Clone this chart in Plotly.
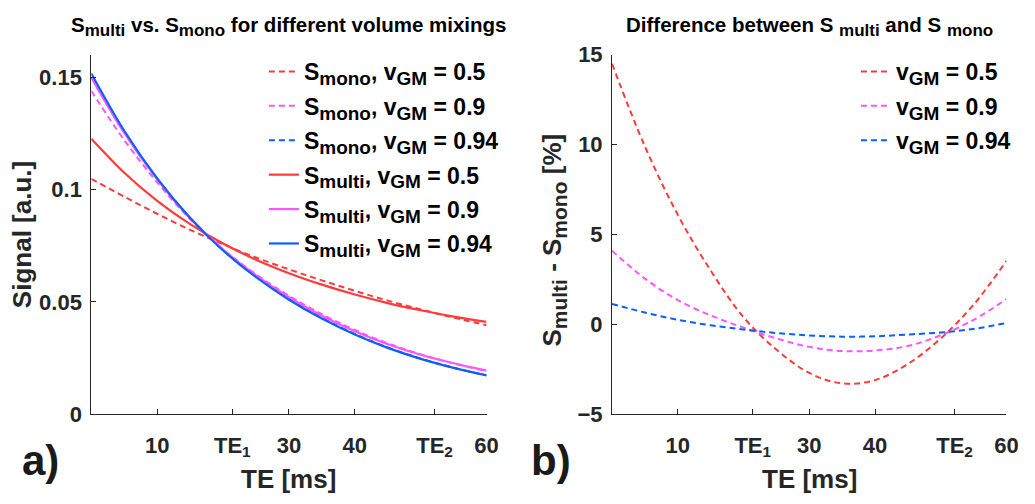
import plotly.graph_objects as go

# Echo times [ms]
te = [0, 5, 10, 15, 20, 25, 30, 35, 40, 45, 50, 55, 60]
te1 = 21.4
te2 = 52.1

# Multi-exponential signal for three GM volume fractions [a.u.]
s_multi_05 = [0.1226, 0.1075, 0.0950, 0.0846, 0.0760, 0.0688, 0.0628, 0.0577, 0.0533, 0.0495, 0.0463, 0.0435, 0.0411]
s_multi_09 = [0.1500, 0.1252, 0.1046, 0.0873, 0.0733, 0.0618, 0.0521, 0.0439, 0.0370, 0.0312, 0.0265, 0.0227, 0.01945]
s_multi_094 = [0.1517, 0.1262, 0.1050, 0.0874, 0.0729, 0.0610, 0.0510, 0.0426, 0.0355, 0.02955, 0.02468, 0.02068, 0.01733]

# Mono-exponential fits [a.u.]
s_mono_05 = [0.1048, 0.09686, 0.08921, 0.08206, 0.07570, 0.06976, 0.06450, 0.05959, 0.05495, 0.05059, 0.04666, 0.04302, 0.03965]
s_mono_09 = [0.1439, 0.1220, 0.1032, 0.08686, 0.07343, 0.06228, 0.05275, 0.04455, 0.03754, 0.03157, 0.02666, 0.02264, 0.01918]
s_mono_094 = [0.1500, 0.1254, 0.1047, 0.08744, 0.07310, 0.06129, 0.05131, 0.04289, 0.03573, 0.02972, 0.02479, 0.02073, 0.01732]

# Relative difference S_multi - S_mono [%]
diff_05 = [14.5, 9.9, 6.1, 3.0, 0.4, -1.4, -2.7, -3.28, -3.1, -2.2, -0.78, 1.1, 3.54]
diff_09 = [4.1, 2.55, 1.35, 0.5, -0.18, -0.78, -1.25, -1.48, -1.45, -1.2, -0.6, 0.25, 1.41]
diff_094 = [1.14, 0.66, 0.26, -0.05, -0.28, -0.48, -0.61, -0.68, -0.66, -0.56, -0.45, -0.25, 0.08]

vgm_labels = ["0.5", "0.9", "0.94"]
x_tickvals = [10, te1, 30, 40, te2, 60]
x_ticktext = ["10", "TE<sub>1</sub>", "30", "40", "TE<sub>2</sub>", "60"]

RED = "#ff3b3b"
MAGENTA = "#ff55ff"
BLUE = "#0a5fff"
colors = [RED, MAGENTA, BLUE]
AXC = "#262626"
FONT = "Liberation Sans, Arial, sans-serif"

W, H = 1035, 504
# plot-area pixel boxes
L_X0, L_X1 = 92.4, 492.3
R_X0, R_X1 = 619.2, 1018.3
Y_TOP, Y_BOT = 45.0, 423.3


def fx(px):
    return px / W


def fy(py):
    return (H - py) / H


def sub(txt, size):
    """Subscript with an explicit glyph size."""
    return f'<sub><span style="font-size:{size}px">{txt}</span></sub>'


fig = go.Figure()

dash = "6px,4px"
k = 0
for s, c, lab in zip([s_mono_05, s_mono_09, s_mono_094], colors, vgm_labels):
    k += 1
    fig.add_trace(go.Scatter(
        x=te, y=s, mode="lines", line=dict(color=c, width=2, dash=dash, shape="spline"),
        name=f"S{sub('mono', 19)}, v{sub('GM', 19)} = {lab}", legendgroup=f"g{k}",
        xaxis="x", yaxis="y", legend="legend"))
for s, c, lab in zip([s_multi_05, s_multi_09, s_multi_094], colors, vgm_labels):
    k += 1
    fig.add_trace(go.Scatter(
        x=te, y=s, mode="lines", line=dict(color=c, width=2.2, shape="spline"),
        name=f"S{sub('multi', 19)}, v{sub('GM', 19)} = {lab}", legendgroup=f"g{k}",
        xaxis="x", yaxis="y", legend="legend"))
for d, c, lab in zip([diff_05, diff_09, diff_094], colors, vgm_labels):
    k += 1
    fig.add_trace(go.Scatter(
        x=te, y=d, mode="lines", line=dict(color=c, width=2, dash=dash, shape="spline"),
        name=f"v{sub('GM', 19)} = {lab}", legendgroup=f"g{k}",
        xaxis="x2", yaxis="y2", legend="legend2"))

tickfont = dict(family=FONT, size=22, color=AXC, weight="bold")
common_ax = dict(showline=True, linecolor=AXC, linewidth=1, ticks="inside", ticklen=5,
                 tickcolor=AXC, showgrid=False, zeroline=False, tickfont=tickfont, mirror=False)

legend_font = dict(family=FONT, size=23, color="black", weight="bold")

fig.update_layout(
    width=W, height=H, margin=dict(l=0, r=0, t=0, b=0),
    paper_bgcolor="white", plot_bgcolor="white",
    font=dict(family=FONT),
    xaxis=dict(domain=[fx(L_X0), fx(L_X1)], range=[0, 60], tickvals=x_tickvals, ticktext=x_ticktext,
               anchor="y", ticklabelstandoff=11, **common_ax),
    yaxis=dict(domain=[fy(Y_BOT), fy(Y_TOP)], range=[0, 0.16], tickvals=[0, 0.05, 0.1, 0.15],
               ticktext=["0", "0.05", "0.1", "0.15"], anchor="x", ticklabelstandoff=4, **common_ax),
    xaxis2=dict(domain=[fx(R_X0), fx(R_X1)], range=[0, 60], tickvals=x_tickvals, ticktext=x_ticktext,
                anchor="y2", ticklabelstandoff=11, **common_ax),
    yaxis2=dict(domain=[fy(Y_BOT), fy(Y_TOP)], range=[-5, 15], tickvals=[-5, 0, 5, 10, 15],
                anchor="x2", ticklabelstandoff=4, **common_ax),
    legend=dict(x=fx(267), y=fy(40), xanchor="left", yanchor="top", bgcolor="rgba(0,0,0,0)",
                font=legend_font, itemwidth=30, tracegroupgap=1.5),
    legend2=dict(x=fx(866), y=fy(40), xanchor="left", yanchor="top", bgcolor="rgba(0,0,0,0)",
                 font=legend_font, itemwidth=30, tracegroupgap=1.5),
    showlegend=True,
)

annots = [
    # panel titles
    dict(text=f"S{sub('multi', 17)} vs. S{sub('mono', 17)} for different volume mixings",
         x=fx((L_X0 + L_X1) / 2), y=fy(15), font=dict(size=20.5, color="black")),
    dict(text=f"Difference between S {sub('multi', 17)} and S {sub('mono', 17)}",
         x=fx((R_X0 + R_X1) / 2), y=fy(15), font=dict(size=20.5, color="black")),
    # axis titles
    dict(text="TE [ms]", x=fx((L_X0 + L_X1) / 2), y=fy(491), font=dict(size=26, color=AXC)),
    dict(text="TE [ms]", x=fx((R_X0 + R_X1) / 2), y=fy(491), font=dict(size=26, color=AXC)),
    dict(text="Signal [a.u.]", x=fx(23), y=fy(234), textangle=-90, font=dict(size=26, color=AXC)),
    dict(text=f"S{sub('multi', 21)} - S{sub('mono', 21)} [%]", x=fx(560), y=fy(240), textangle=-90,
         font=dict(size=26, color=AXC)),
    # panel letters
    dict(text="a)", x=fx(41), y=fy(472), font=dict(size=42, color="#1a1a1a")),
    dict(text="b)", x=fx(557), y=fy(472), font=dict(size=42, color="#1a1a1a")),
]
for a in annots:
    a.update(xref="paper", yref="paper", showarrow=False, xanchor="center", yanchor="middle")
    a["font"].update(family=FONT, weight="bold")
    fig.add_annotation(**a)

fig.write_html("out.html")
